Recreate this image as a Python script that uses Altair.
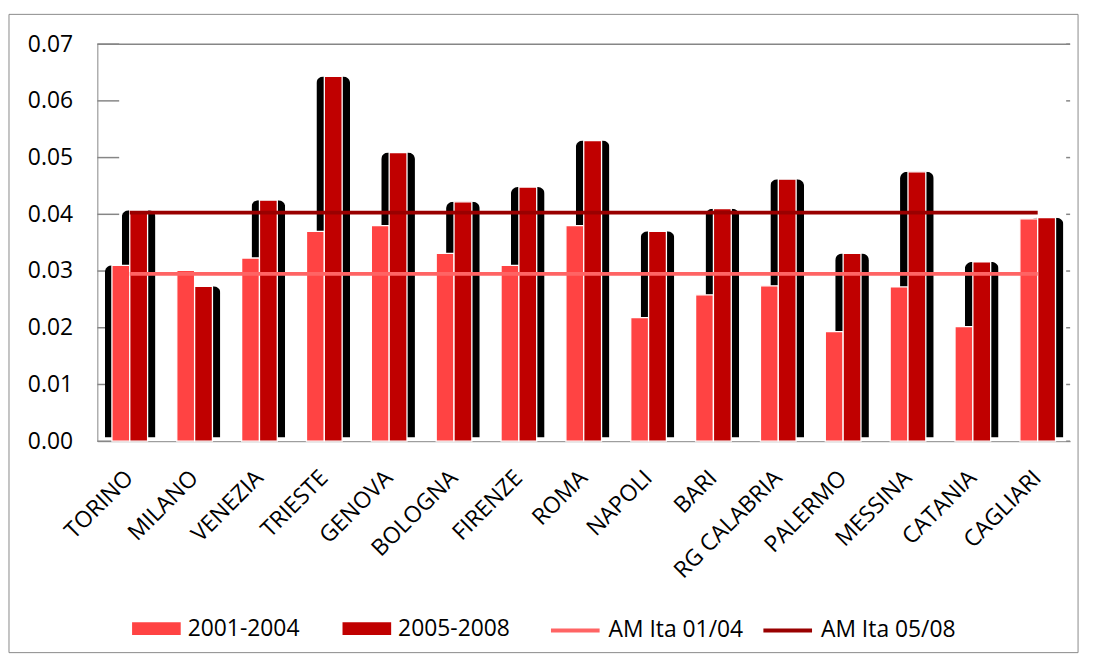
import altair as alt
import pandas as pd

# ---- data ----
cities = ["TORINO", "MILANO", "VENEZIA", "TRIESTE", "GENOVA", "BOLOGNA", "FIRENZE",
          "ROMA", "NAPOLI", "BARI", "RG CALABRIA", "PALERMO", "MESSINA", "CATANIA", "CAGLIARI"]
periods = ["2001-2004", "2005-2008"]
v_2001_2004 = [0.0310, 0.0301, 0.0323, 0.0370, 0.0380, 0.0331, 0.0310,
               0.0380, 0.0218, 0.0258, 0.0274, 0.0193, 0.0272, 0.0202, 0.0392]
v_2005_2008 = [0.0407, 0.0273, 0.0425, 0.0643, 0.0509, 0.0422, 0.0448,
               0.0530, 0.0370, 0.0410, 0.0462, 0.0331, 0.0475, 0.0316, 0.0394]
line_series = ["AM Ita 01/04", "AM Ita 05/08"]
am_values = [0.0295, 0.0403]
y_ticks = [0.00, 0.01, 0.02, 0.03, 0.04, 0.05, 0.06, 0.07]

bar_colors = ["#FF4343", "#C00000"]
line_colors = ["#FF6464", "#990000"]

bars_df = pd.DataFrame({
    "city": cities * 2,
    "period": [periods[0]] * len(cities) + [periods[1]] * len(cities),
    "value": v_2001_2004 + v_2005_2008,
})
lines_df = pd.DataFrame({
    "city": cities * 2,
    "series": [line_series[0]] * len(cities) + [line_series[1]] * len(cities),
    "value": [am_values[0]] * len(cities) + [am_values[1]] * len(cities),
})
ticks_df = pd.DataFrame({"tick": y_ticks})

FONT = "Open Sans"
W, H = 980, 400

yscale = alt.Scale(domain=[0, 0.07], nice=False, zero=True)
x_enc = alt.X("city:N", sort=cities,
              scale=alt.Scale(paddingInner=0.45, paddingOuter=0.225),
              axis=alt.Axis(title=None, labelAngle=-45, labelAlign="right",
                            labelBaseline="middle", labelPadding=33, ticks=False,
                            domainColor="#868686", labelFont=FONT, labelFontSize=23,
                            labelColor="black"))
y_enc = alt.Y("value:Q", scale=yscale,
              axis=alt.Axis(title=None, values=y_ticks, format=".2f", grid=False,
                            ticks=False, domainColor="#868686", labelPadding=25,
                            labelFont=FONT, labelFontSize=23, labelColor="black"))
xoff = alt.XOffset("period:N", sort=periods,
                   scale=alt.Scale(paddingInner=0, paddingOuter=0))

frame = alt.Chart(alt.Data(values=[{"k": 1}])).mark_rect(
    fillOpacity=0, stroke="#8a8a8a", strokeWidth=1
).encode(x=alt.value(-89), x2=alt.value(988), y=alt.value(-30), y2=alt.value(613))

left_stubs = alt.Chart(ticks_df).mark_rule(color="#868686", strokeWidth=1.5).encode(
    y=alt.Y("tick:Q", scale=yscale), x=alt.value(0), x2=alt.value(22))
right_stubs = alt.Chart(ticks_df).mark_rule(color="#868686", strokeWidth=1.5).encode(
    y=alt.Y("tick:Q", scale=yscale), x=alt.value(W - 4), x2=alt.value(W))
top_line = alt.Chart(ticks_df).transform_filter("datum.tick == 0.07").mark_rule(
    color="#868686", strokeWidth=1.5).encode(
    y=alt.Y("tick:Q", scale=yscale), x=alt.value(0), x2=alt.value(W))

base = alt.Chart(bars_df)
shadow_dark = base.transform_filter(f"datum.period == '{periods[1]}'").mark_bar(
    color="black", width=34, cornerRadiusTopLeft=7, cornerRadiusTopRight=7,
    yOffset=-4, y2Offset=2
).encode(x=x_enc, xOffset=xoff, y=y_enc)
shadow_light = base.transform_filter(
    f"datum.period == '{periods[0]}' && datum.city == '{cities[0]}'").mark_bar(
    color="black", width=32, cornerRadiusTopLeft=7, cornerRadiusTopRight=7,
    yOffset=-4, y2Offset=2
).encode(x=x_enc, xOffset=xoff, y=y_enc)

bars = base.mark_bar(stroke="white", strokeWidth=1.3).encode(
    x=x_enc, xOffset=xoff, y=y_enc,
    fill=alt.Fill("period:N", sort=periods,
                  scale=alt.Scale(domain=periods, range=bar_colors),
                  legend=alt.Legend(title=None, orient="none", legendX=35, legendY=564,
                                    direction="horizontal",
                                    symbolType="M-1,-0.26H1V0.26H-1Z",
                                    symbolSize=2401, symbolStrokeWidth=0,
                                    labelFont=FONT, labelFontSize=23, labelColor="black",
                                    labelOffset=7, columnPadding=43)),
)

lines = alt.Chart(lines_df).mark_line(strokeWidth=4).encode(
    x=x_enc,
    y=alt.Y("value:Q", scale=yscale),
    stroke=alt.Stroke("series:N", sort=line_series,
                      scale=alt.Scale(domain=line_series, range=line_colors),
                      legend=alt.Legend(title=None, orient="none", legendX=455, legendY=564,
                                        direction="horizontal", symbolType="stroke",
                                        symbolSize=2401, symbolStrokeWidth=4,
                                        labelFont=FONT, labelFontSize=23,
                                        labelColor="black", labelOffset=7,
                                        columnPadding=12, gridAlign="all")),
)

chart = alt.layer(frame, left_stubs, right_stubs, top_line, shadow_light, shadow_dark,
                  bars, lines).properties(
    width=W, height=H,
    autosize=alt.AutoSizeParams(type="none"),
    padding={"left": 90, "top": 34, "right": 16, "bottom": 217},
).configure_view(stroke=None)

chart.save("out.html", embed_options={"renderer": "svg", "actions": False})
